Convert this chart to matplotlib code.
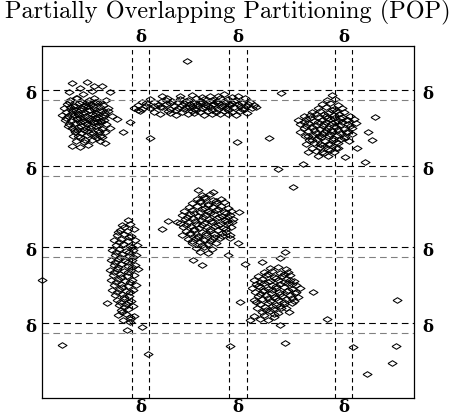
import matplotlib
matplotlib.use('Agg')
import matplotlib.pyplot as plt

# cluster points (x, y)
top_left = [
    (30, 315), (45, 316), (38, 310), (52, 312), (60, 312), (27, 306), (41, 304), (50, 307), (34, 300), (68, 306),
    (28, 298), (35, 300), (40, 296), (47, 298), (52, 300), (58, 296), (64, 298),
    (25, 294), (31, 292), (37, 295), (43, 293), (49, 294), (55, 296), (61, 293),
    (22, 290), (28, 291), (34, 288), (40, 290), (46, 292), (52, 289), (58, 291), (66, 290),
    (24, 286), (30, 287), (36, 284), (42, 286), (48, 288), (54, 285), (60, 287),
    (26, 282), (32, 283), (38, 280), (44, 282), (50, 284), (56, 281), (62, 283), (70, 282),
    (23, 278), (29, 277), (35, 279), (41, 277), (47, 278), (53, 280), (59, 277),
    (27, 274), (33, 275), (39, 272), (45, 274), (51, 276), (57, 273), (64, 274),
    (30, 270), (36, 271), (42, 268), (48, 270), (54, 272), (60, 269),
    (33, 266), (39, 265), (45, 267), (51, 265), (57, 266), (63, 266),
    (31, 262), (38, 261), (45, 263), (52, 262), (60, 261),
    (34, 257), (42, 256), (50, 258), (58, 257), (63, 255),
    (30, 252), (38, 251), (46, 253), (75, 279), (68, 270),
    (27, 296), (33, 292), (39, 288), (45, 296), (51, 292), (57, 288), (63, 285), (29, 284),
    (35, 280), (41, 284), (47, 280), (53, 283), (59, 276), (26, 272), (32, 268), (38, 276),
    (44, 270), (50, 278), (56, 268), (62, 278), (36, 262), (43, 258), (49, 264), (55, 260),
    (41, 292), (47, 288), (53, 296), (31, 289), (37, 283), (43, 276), (49, 272), (55, 276),
    (61, 281), (35, 268), (58, 262), (66, 287), (20, 283), (24, 280),
]

top_band = [
    (120, 302), (150, 303), (168, 302), (182, 304), (196, 302),
    (108, 299), (125, 300), (138, 299), (146, 298), (154, 300), (162, 299), (170, 298), (178, 300), (186, 299), (194, 298), (203, 300),
    (100, 296), (112, 296), (120, 297), (128, 295), (136, 296), (144, 297), (152, 295), (160, 296), (168, 297), (176, 295), (184, 296), (192, 297), (200, 295), (208, 296),
    (96, 293), (104, 292), (116, 293), (124, 294), (132, 292), (140, 293), (148, 294), (156, 292), (164, 293), (172, 294), (180, 292), (188, 293), (196, 294), (204, 292), (212, 293),
    (92, 290), (100, 289), (108, 290), (120, 291), (128, 289), (136, 290), (144, 291), (152, 289), (160, 290), (168, 291), (176, 289), (184, 290), (192, 291), (200, 289), (210, 290),
    (98, 287), (112, 286), (126, 287), (140, 286), (150, 287), (158, 286), (166, 287), (174, 286), (182, 287), (190, 286), (198, 287),
    (118, 284), (134, 283), (146, 284), (162, 283), (178, 284), (194, 283), (205, 285),
    (155, 294), (163, 291), (171, 294), (147, 291), (179, 291), (187, 294), (159, 297), (175, 297),
    (104, 295), (118, 291), (130, 297), (142, 295), (150, 292), (158, 295), (166, 292), (174, 296),
    (182, 293), (190, 295), (198, 292), (206, 294), (134, 288), (142, 289), (154, 288), (170, 288),
    (186, 288), (202, 289), (112, 292), (124, 298), (138, 302), (160, 301), (176, 302), (190, 301),
    (128, 285), (152, 285), (170, 284), (186, 284), (96, 288), (214, 291),
]

top_right = [
    (290, 303), (285, 298), (293, 299), (280, 294), (288, 295), (296, 293),
    (276, 290), (284, 291), (292, 289), (300, 290),
    (270, 286), (278, 287), (286, 285), (294, 287), (302, 286),
    (262, 282), (268, 283), (276, 281), (284, 282), (292, 283), (300, 281), (308, 282),
    (256, 278), (264, 279), (272, 277), (280, 278), (288, 279), (296, 277), (304, 278), (312, 279),
    (258, 274), (266, 275), (274, 273), (282, 274), (290, 275), (298, 273), (306, 274), (314, 275),
    (262, 270), (270, 271), (278, 269), (286, 270), (294, 271), (302, 269), (310, 270),
    (258, 266), (266, 267), (274, 265), (282, 266), (290, 267), (298, 265), (306, 266),
    (263, 262), (271, 263), (279, 261), (287, 262), (295, 263), (303, 261),
    (267, 258), (275, 259), (283, 257), (291, 258), (299, 259), (307, 257),
    (264, 254), (272, 255), (280, 253), (288, 254), (296, 255),
    (270, 250), (278, 251), (286, 249), (294, 250),
    (266, 246), (274, 247), (282, 245), (292, 246), (276, 242), (286, 242),
    (285, 280), (293, 276), (289, 268), (281, 272), (297, 284), (277, 262), (291, 260),
    (268, 280), (276, 276), (284, 276), (292, 272), (300, 276), (308, 272), (272, 268), (280, 264),
    (288, 264), (296, 268), (304, 266), (264, 272), (270, 258), (278, 254), (286, 254), (294, 256),
    (302, 260), (282, 284), (290, 288), (298, 280), (306, 278), (262, 276), (274, 284), (288, 248),
    (280, 246), (296, 250), (310, 264), (266, 262), (284, 268), (292, 280),
    (333, 281), (326, 266), (330, 258), (315, 250), (303, 241), (323, 236), (261, 234),
]

middle = [
    (160, 203), (168, 204), (155, 199), (163, 200), (171, 198), (179, 199),
    (150, 195), (158, 196), (166, 194), (174, 195), (182, 196),
    (147, 191), (155, 192), (163, 190), (171, 191), (179, 192), (186, 190),
    (142, 187), (150, 188), (158, 186), (166, 187), (174, 188), (182, 186), (189, 187),
    (140, 183), (148, 184), (156, 182), (164, 183), (172, 184), (180, 182), (188, 183),
    (143, 179), (151, 180), (159, 178), (167, 179), (175, 180), (183, 178), (191, 179),
    (138, 175), (146, 176), (154, 174), (162, 175), (170, 176), (178, 174), (186, 175),
    (141, 171), (149, 172), (157, 170), (165, 171), (173, 172), (181, 170), (189, 171),
    (144, 167), (152, 168), (160, 166), (168, 167), (176, 168), (184, 166),
    (140, 163), (148, 164), (156, 162), (164, 163), (172, 164), (180, 162), (188, 163),
    (146, 159), (154, 160), (162, 158), (170, 159), (178, 160),
    (150, 155), (158, 156), (166, 154), (174, 155), (154, 150), (162, 151), (170, 149), (158, 146), (166, 145),
    (152, 185), (160, 189), (168, 185), (176, 189), (184, 185), (145, 181), (153, 177), (161, 181),
    (169, 177), (177, 181), (185, 177), (144, 173), (152, 169), (160, 173), (168, 169), (176, 173),
    (184, 169), (148, 165), (156, 161), (164, 165), (172, 161), (180, 165), (158, 197), (166, 193),
    (174, 197), (150, 157), (160, 153), (168, 157), (162, 201), (186, 181),
    (120, 169), (126, 177), (135, 176), (190, 176), (188, 160), (186, 143), (196, 155),
    (156, 208), (171, 206), (160, 133), (151, 138), (197, 186),
]

left_column = [
    (86, 178), (80, 173), (88, 174), (78, 168), (85, 167), (92, 169),
    (75, 163), (82, 164), (89, 162), (72, 158), (79, 159), (86, 157), (93, 158),
    (74, 153), (81, 154), (88, 152), (95, 153), (70, 148), (77, 149), (84, 147), (91, 148),
    (73, 143), (80, 144), (87, 142), (94, 143), (69, 138), (76, 139), (83, 137), (90, 138),
    (72, 133), (79, 134), (86, 132), (93, 133), (68, 128), (75, 129), (82, 127), (89, 128), (96, 129),
    (71, 123), (78, 124), (85, 122), (92, 123), (69, 118), (76, 119), (83, 117), (90, 118),
    (72, 113), (79, 114), (86, 112), (94, 113), (70, 108), (77, 109), (84, 107), (91, 108),
    (73, 103), (80, 104), (87, 102), (75, 98), (82, 99), (89, 97), (77, 93), (84, 94), (91, 92),
    (79, 88), (86, 89), (76, 83), (84, 84), (92, 82), (81, 78), (88, 79),
    (82, 171), (76, 166), (87, 161), (77, 156), (90, 151), (74, 146), (87, 146), (78, 141),
    (91, 141), (73, 136), (86, 136), (76, 131), (90, 131), (72, 126), (86, 126), (79, 121),
    (74, 116), (88, 116), (80, 111), (75, 106), (88, 106), (82, 101), (78, 96), (86, 96),
    (82, 91), (80, 86), (88, 81),
    (65, 95), (100, 71), (85, 68), (88, 76),
]

lower_right = [
    (243, 146), (238, 140), (220, 136), (203, 134),
    (228, 130), (236, 131), (244, 129), (222, 126), (230, 127), (238, 125), (246, 126),
    (216, 122), (224, 123), (232, 121), (240, 122), (248, 123),
    (212, 118), (220, 119), (228, 117), (236, 118), (244, 119), (252, 117),
    (214, 114), (222, 115), (230, 113), (238, 114), (246, 115), (254, 113),
    (210, 110), (218, 111), (226, 109), (234, 110), (242, 111), (250, 109), (258, 110),
    (213, 106), (221, 107), (229, 105), (237, 106), (245, 107), (253, 105),
    (216, 102), (224, 103), (232, 101), (240, 102), (248, 103), (256, 101),
    (212, 98), (220, 99), (228, 97), (236, 98), (244, 99), (252, 97),
    (218, 94), (226, 95), (234, 93), (242, 94), (250, 95),
    (215, 90), (223, 91), (231, 89), (239, 90), (220, 86), (228, 87), (236, 85), (247, 86),
    (212, 82), (222, 83), (232, 81), (218, 79), (226, 78),
    (226, 124), (234, 120), (242, 124), (218, 116), (226, 116), (234, 112), (242, 116), (250, 114),
    (222, 108), (230, 108), (238, 104), (246, 108), (254, 106), (226, 100), (234, 100), (242, 96),
    (250, 100), (218, 104), (214, 96), (230, 92), (238, 92), (224, 88), (232, 84), (244, 90),
    (216, 112), (248, 118),
    (271, 106), (198, 96), (285, 79), (208, 78), (238, 73),
]

outliers = [
    (145, 337), (239, 305), (88, 276), (81, 266), (108, 260), (195, 256), (227, 260),
    (236, 229), (251, 211), (0, 118), (20, 53), (106, 44), (188, 52), (243, 55),
    (311, 51), (355, 98), (354, 52), (350, 35), (325, 24),
]

# partition boundaries
x_bounds = [(90, 107), (187, 205), (293, 310)]
y_bounds = [(308, 298.5), (232, 222.5), (151, 141.5), (75, 65)]

fig = plt.figure(figsize=(4.55, 4.16), dpi=100)
ax = fig.add_axes([42 / 455, 1 - 398 / 416, 372 / 455, 352.5 / 416])

diamond = [(-1, 0), (0, 0.62), (1, 0), (0, -0.62), (-1, 0)]
for pts in [top_left, top_band, top_right, middle, left_column, lower_right, outliers]:
    xs = [p[0] for p in pts]
    ys = [p[1] for p in pts]
    ax.plot(xs, ys, linestyle='none', marker=diamond, ms=6.5, mfc='none', mec='k', mew=0.75, clip_on=False)

dfont = dict(fontsize=12, fontweight='bold', family='DejaVu Serif', textcoords='offset points')
for a, b in x_bounds:
    for x in (a, b):
        ax.axvline(x, color='k', lw=0.8, ls=(0, (4, 3.2)))
    xc = (a + b) / 2
    ax.annotate('δ', (xc, 1), xycoords=('data', 'axes fraction'), xytext=(0, 0), ha='center', va='bottom', **dfont)
    ax.annotate('δ', (xc, 0), xycoords=('data', 'axes fraction'), xytext=(0, -1), ha='center', va='top', **dfont)

for a, b in y_bounds:
    ax.axhline(a, color='k', lw=0.8, ls=(0, (6, 3.8)))
    ax.axhline(b, color='0.5', lw=0.8, ls=(0, (6, 3.8)))
    yc = (a + b) / 2
    ax.annotate('δ', (0, yc), xycoords=('axes fraction', 'data'), xytext=(-4, 0), ha='right', va='center', **dfont)
    ax.annotate('δ', (1, yc), xycoords=('axes fraction', 'data'), xytext=(6, 0), ha='left', va='center', **dfont)

ax.set_xlim(0, 372)
ax.set_ylim(0, 352.5)
ax.set_xticks([])
ax.set_yticks([])
for s in ax.spines.values():
    s.set_linewidth(0.9)

fig.text(0.5, 1 - 12 / 416, 'Partially Overlapping Partitioning (POP)', ha='center', va='center',
         fontsize=17.5, family='cmr10')

fig.savefig('out.png', dpi=100)
